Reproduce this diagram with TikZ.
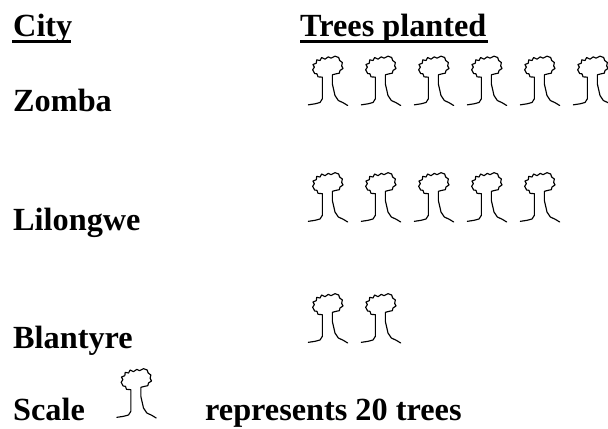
\documentclass[tikz,border=0pt]{standalone}
\usepackage{fontspec}
\setmainfont{Liberation Serif}
\tikzset{
  lbl/.style={anchor=base west,inner sep=0pt,font=\fontsize{32.4}{36}\selectfont\bfseries},
  treeline/.style={draw=black,line width=1.15pt,line join=round,line cap=round},
  rule/.style={draw=black,line width=3pt}
}
\newcommand{\treeat}[2]{%
  \begin{scope}[shift={(#1,#2)},x=0.3333bp,y=-0.3333bp]
    \draw[treeline] (25,193)--(45,190)--(60,186)--(67,175)--(67,110)--(54,109)--(51,100)--(44,99)--(38,88)--(43,80)--(39,72)--(49,68)--(50,58)--(60,60)--(65,51)--(75,56)--(85,49)--(93,53)--(105,47)--(116,51)--(119,60)--(127,66)--(125,76)--(129,84)--(120,90)--(118,98)--(108,100)--(97,103)--(97,130)--(105,165)--(115,180)--(130,187)--(143,195);
  \end{scope}}
\begin{document}
\begin{tikzpicture}[x=1bp,y=-1bp]
\useasboundingbox (0,0) rectangle (608,428);
\node[lbl] (city) at (13,36) {City};
\node[lbl] (trees) at (300,36) {Trees planted};
\draw[rule] (12,41) -- (71,41);
\draw[rule] (300,41) -- (488,41);
\node[lbl] (zomba) at (13,111) {Zomba};
\node[lbl] (lilongwe) at (13,230) {Lilongwe};
\node[lbl] (blantyre) at (13,348) {Blantyre};
\node[lbl] (scale) at (13,420) {Scale};
\node[lbl] (rep) at (205,420) {represents 20 trees};
\foreach \i in {0,...,5} {\treeat{300+53*\i}{40.5}}
\foreach \i in {0,...,4} {\treeat{300+53*\i}{157}}
\foreach \i in {0,1} {\treeat{300+53*\i}{278}}
\treeat{108.5}{353}
\end{tikzpicture}
\end{document}
